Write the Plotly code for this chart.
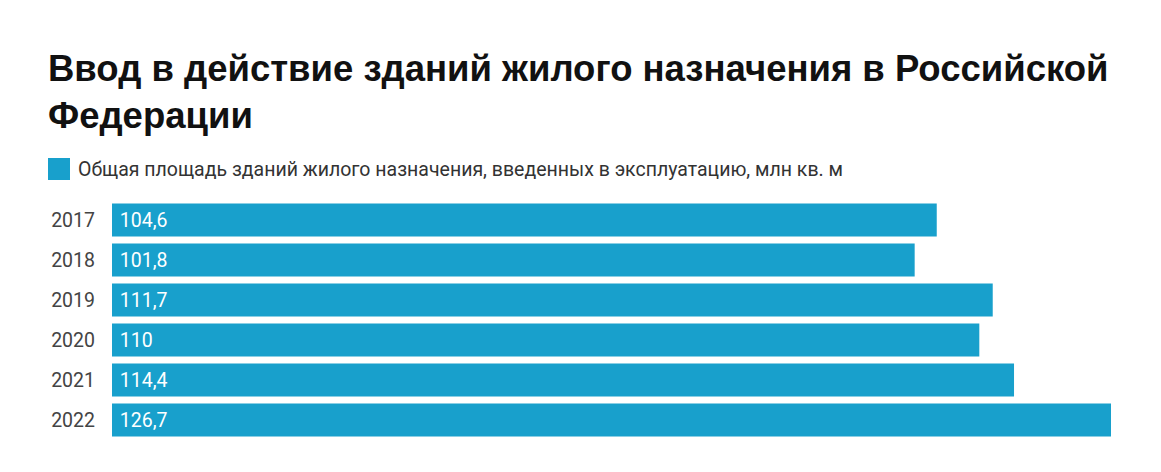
import plotly.graph_objects as go

# Data
years = ["2017", "2018", "2019", "2020", "2021", "2022"]
area = [104.6, 101.8, 111.7, 110, 114.4, 126.7]
series_name = "Общая площадь зданий жилого назначения, введенных в эксплуатацию, млн кв. м"
title_text = "Ввод в действие зданий жилого назначения в Российской<br>Федерации"

bar_color = "#18a0cc"

fig = go.Figure(go.Bar(
    x=area,
    y=years,
    orientation="h",
    marker=dict(color=bar_color, line=dict(width=0)),
    texttemplate="\u00a0%{x}",
    textposition="inside",
    insidetextanchor="start",
    textfont=dict(family="Roboto", size=19.5, color="white"),
    showlegend=False,
))

fig.update_layout(
    width=1161,
    height=472,
    paper_bgcolor="white",
    plot_bgcolor="white",
    separators=", ",
    margin=dict(l=104, r=58, t=192, b=40),
    bargap=0.17,
    font=dict(family="Roboto", color="#333333"),
    title=dict(
        text=title_text,
        font=dict(family="Liberation Sans", size=36.5, color="#111111", weight="bold"),
        x=40 / 1161, xanchor="left", xref="container",
        y=1 - 73 / 472, yanchor="top", yref="container",
    ),
    xaxis=dict(range=[0, 126.7], visible=False, fixedrange=True),
    yaxis=dict(
        autorange="reversed",
        showgrid=False, zeroline=False, showline=False,
        tickfont=dict(family="Roboto", size=19.5, color="#444444"),
        ticklabelstandoff=16,
        fixedrange=True,
    ),
)

# legend: square swatch + text
fig.add_shape(
    type="rect", xref="paper", yref="paper",
    x0=-64 / 999, x1=-42 / 999, y0=1 + 20 / 240, y1=1 + 42 / 240,
    fillcolor=bar_color, line=dict(width=0),
)
fig.add_annotation(
    text=series_name, xref="paper", yref="paper",
    x=-36 / 999, y=1 + 31 / 240, xanchor="left", yanchor="middle",
    showarrow=False, font=dict(family="Roboto", size=19.5, color="#333333"),
)

fig.write_html("out.html")
